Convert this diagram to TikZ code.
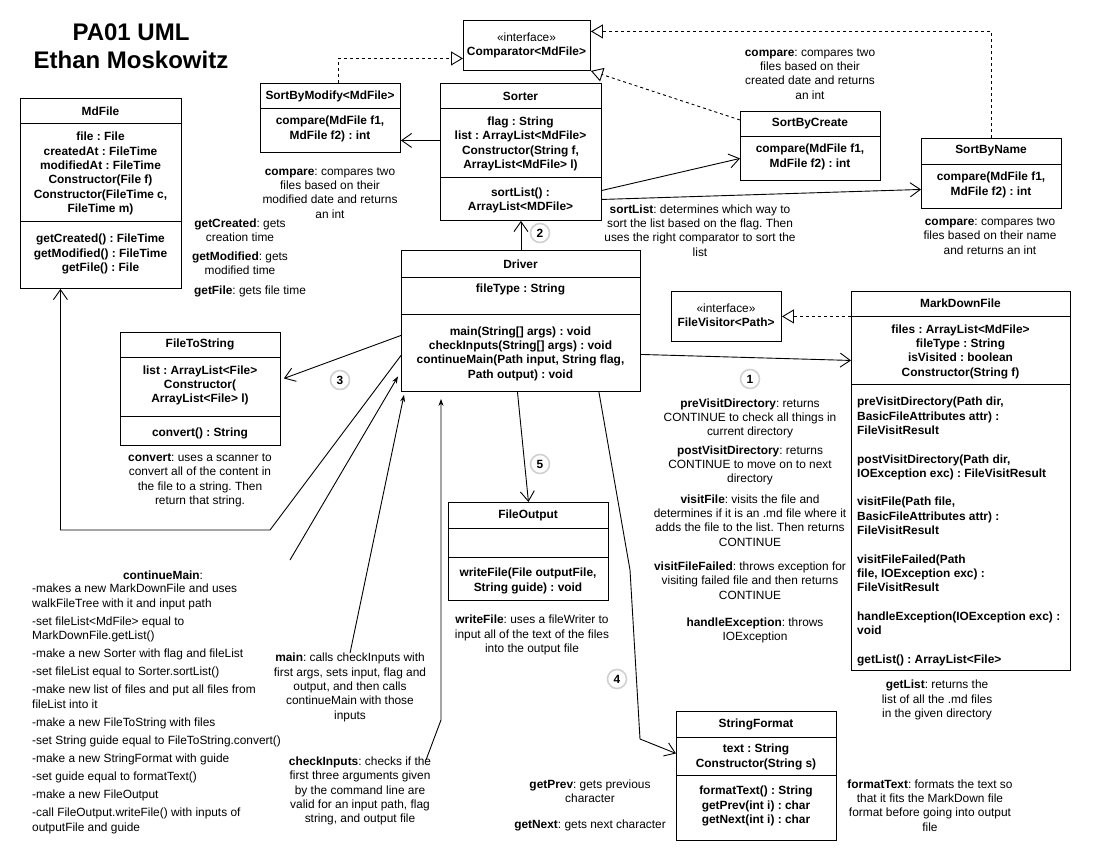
\documentclass[tikz,border=0pt]{standalone}
\usepackage{fontspec}
\setmainfont{Liberation Sans}
\usetikzlibrary{arrows.meta}
\frenchspacing

\tikzset{
	umlbox/.style={draw, line width=0.9pt, inner sep=0pt, anchor=north west},
	titletext/.style={font=\fontsize{24}{28}\selectfont\bfseries, align=center},
	member/.style={font=\fontsize{11.9}{14.3}\selectfont\bfseries, align=center, inner sep=0pt},
	note/.style={font=\fontsize{11.9}{14.3}\selectfont, align=center, inner sep=0pt},
	stepnum/.style={circle, draw=black!18, line width=1.6pt, fill=white, minimum size=19pt, inner sep=0pt, font=\fontsize{11.9}{14.3}\selectfont\bfseries},
	uses/.style={line width=0.9pt, -{Straight Barb[length=10pt,width=14pt]}},
	realizes/.style={line width=0.9pt, dashed, -{Triangle[open,length=12pt,width=14pt]}},
	calls/.style={line width=0.9pt, -{Stealth[length=7pt,width=5pt]}},
}

\begin{document}
\begin{tikzpicture}[x=1pt, y=-1pt]
	\useasboundingbox (0,0) rectangle (1100,850);
	\node [titletext] (title) at (131,46) {PA01 UML\\Ethan Moskowitz};

	% class boxes
	\node [umlbox, minimum width=127pt, minimum height=50pt] (comparator) at (463,20) {};
	\node [umlbox, minimum width=140pt, minimum height=69pt] (sbm) at (260,83) {};
	\node [umlbox, minimum width=161pt, minimum height=137pt] (sorter) at (440,83) {};
	\node [umlbox, minimum width=140pt, minimum height=69pt] (sbc) at (740,111) {};
	\node [umlbox, minimum width=140pt, minimum height=70pt] (sbn) at (921,138) {};
	\node [umlbox, minimum width=161pt, minimum height=190pt] (mdfile) at (20,98) {};
	\node [umlbox, minimum width=239pt, minimum height=141pt] (driver) at (401,250) {};
	\node [umlbox, minimum width=160pt, minimum height=113pt] (fts) at (120,332) {};
	\node [umlbox, minimum width=160pt, minimum height=98pt] (fo) at (448,502) {};
	\node [umlbox, minimum width=110pt, minimum height=50pt] (fv) at (671,291) {};
	\node [umlbox, minimum width=219pt, minimum height=379pt] (mdf) at (851,291) {};
	\node [umlbox, minimum width=160pt, minimum height=129pt] (sf) at (676,711) {};
	\foreach \n/\d in {sbm/25, sorter/25, sorter/94, sbc/25, sbn/26, mdfile/25, mdfile/123,
		driver/27, driver/64, fts/25, fts/84, fo/26, fo/55, mdf/25, mdf/93, sf/26, sf/64} {
		\draw [line width=0.9pt] ([yshift=-\d pt]\n.north west) -- ([yshift=-\d pt]\n.north east);
	}

	% class contents
	\node [note] (comptext) at (526.5,45.5) {«interface»\\\textbf{Comparator<MdFile>}};
	\node [member] (sbmname) at (330,96) {SortByModify<MdFile>};
	\node [member] (sbmops) at (330,129) {compare(MdFile f1,\\MdFile f2) : int};
	\node [member] (sortername) at (520.5,96) {Sorter};
	\node [member] (sorterattr) at (520.5,144) {flag : String\\list : ArrayList<MdFile>\\Constructor(String f,\\ArrayList<MdFile> l)};
	\node [member] (sorterops) at (520.5,200.5) {sortList() :\\ArrayList<MDFile>};
	\node [member] (sbcname) at (810,124) {SortByCreate};
	\node [member] (sbcops) at (810,157) {compare(MdFile f1,\\MdFile f2) : int};
	\node [member] (sbnname) at (991,151) {SortByName};
	\node [member] (sbnops) at (991,185) {compare(MdFile f1,\\MdFile f2) : int};
	\node [member] (mdfilename) at (100.5,111) {MdFile};
	\node [member] (mdfileattr) at (100.5,173.5) {file : File\\createdAt : FileTime\\modifiedAt : FileTime\\Constructor(File f)\\Constructor(FileTime c,\\FileTime m)};
	\node [member] (mdfileops) at (100.5,254) {getCreated() : FileTime\\getModified() : FileTime\\getFile() : File};
	\node [member] (drivername) at (520.5,264) {Driver};
	\node [member] (driverattr) at (520.5,289) {fileType : String};
	\node [member] (driverops) at (520.5,353.5) {main(String[] args) : void\\checkInputs(String[] args) : void\\continueMain(Path input, String flag,\\Path output) : void};
	\node [member] (ftsname) at (200,344.5) {FileToString};
	\node [member] (ftsattr) at (200,385.5) {list : ArrayList<File>\\Constructor(\\ArrayList<File> l)};
	\node [member] (ftsops) at (200,433) {convert() : String};
	\node [member] (foname) at (528,515) {FileOutput};
	\node [member] (foops) at (528,581) {writeFile(File outputFile,\\String guide) : void};
	\node [note] (fvtext) at (726,315.5) {«interface»\\\textbf{FileVisitor<Path>}};
	\node [member] (mdfname) at (960.5,303.5) {MarkDownFile};
	\node [member] (mdfattr) at (960.5,351.5) {files : ArrayList<MdFile>\\fileType : String\\isVisited : boolean\\Constructor(String f)};
	\node [member, align=left, anchor=west] (mdfops) at (857,531.5) {preVisitDirectory(Path dir,\\BasicFileAttributes attr) :\\FileVisitResult\\[14.3pt]postVisitDirectory(Path dir,\\IOException exc) : FileVisitResult\\[14.3pt]visitFile(Path file,\\BasicFileAttributes attr) :\\FileVisitResult\\[14.3pt]visitFileFailed(Path\\file, IOException exc) :\\FileVisitResult\\[14.3pt]handleException(IOException exc) :\\void\\[14.3pt]getList() : ArrayList<File>};
	\node [member] (sfname) at (756,724) {StringFormat};
	\node [member] (sfattr) at (756,757) {text : String\\Constructor(String s)};
	\node [member] (sfops) at (756,806) {formatText() : String\\getPrev(int i) : char\\getNext(int i) : char};

	% notes
	\node [note] (sbmnote) at (330,193) {\textbf{compare}: compares two\\files based on their\\modified date and returns\\an int};
	\node [note] (sbcnote) at (810,74) {\textbf{compare}: compares two\\files based on their\\created date and returns\\an int};
	\node [note] (sbnnote) at (990,236) {\textbf{compare}: compares two\\files based on their name\\and returns an int};
	\node [note] (sortnote) at (700,230.5) {\textbf{sortList}: determines which way to\\sort the list based on the flag. Then\\uses the right comparator to sort the\\list};
	\node [note] (creatednote) at (240,230.5) {\textbf{getCreated}: gets\\creation time};
	\node [note] (modifiednote) at (240,263) {\textbf{getModified}: gets\\modified time};
	\node [note] (filenote) at (250,291) {\textbf{getFile}: gets file time};
	\node [note] (convnote) at (200,480.5) {\textbf{convert}: uses a scanner to\\convert all of the content in\\the file to a string. Then\\return that string.};
	\node [note] (writenote) at (532,635) {\textbf{writeFile}: uses a fileWriter to\\input all of the text of the files\\into the output file};
	\node [note] (prenote) at (750,418.5) {\textbf{preVisitDirectory}: returns\\CONTINUE to check all things in\\current directory};
	\node [note] (postnote) at (750,465.5) {\textbf{postVisitDirectory}: returns\\CONTINUE to move on to next\\directory};
	\node [note] (visitnote) at (750,520.5) {\textbf{visitFile}: visits the file and\\determines if it is an .md file where it\\adds the file to the list. Then returns\\CONTINUE};
	\node [note] (failnote) at (750,580.5) {\textbf{visitFileFailed}: throws exception for\\visiting failed file and then returns\\CONTINUE};
	\node [note] (handlenote) at (755,630.5) {\textbf{handleException}: throws\\IOException};
	\node [note] (listnote) at (937,700) {\textbf{getList}: returns the\\list of all the .md files\\in the given directory};
	\node [note] (prevnote) at (590,791.5) {\textbf{getPrev}: gets previous\\character};
	\node [note] (nextnote) at (590,825) {\textbf{getNext}: gets next character};
	\node [note] (formatnote) at (930,805.5) {\textbf{formatText}: formats the text so\\that it fits the MarkDown file\\format before going into output\\file};
	\node [note] (cmhead) at (163,575) {\textbf{continueMain}:};
	\node [note, align=left, anchor=west] (cmnote) at (32,709) {-makes a new MarkDownFile and uses\\walkFileTree with it and input path\\[3.8pt]-set fileList<MdFile> equal to\\MarkDownFile.getList()\\[3.8pt]-make a new Sorter with flag and fileList\\[3.8pt]-set fileList equal to Sorter.sortList()\\[3.8pt]-make new list of files and put all files from\\fileList into it\\[3.8pt]-make a new FileToString with files\\[3.8pt]-set String guide equal to FileToString.convert()\\[3.8pt]-make a new StringFormat with guide\\[3.8pt]-set guide equal to formatText()\\[3.8pt]-make a new FileOutput\\[3.8pt]-call FileOutput.writeFile() with inputs of\\outputFile and guide};
	\node [note] (mainnote) at (350,687.5) {\textbf{main}: calls checkInputs with\\first args, sets input, flag and\\output, and then calls\\continueMain with those\\inputs};
	\node [note] (checknote) at (360,791) {\textbf{checkInputs}: checks if the\\first three arguments given\\by the command line are\\valid for an input path, flag\\string, and output file};

	% realizations
	\draw [realizes] ([xshift=8pt]sbm.north) |- ([yshift=-13pt]comparator.west);
	\draw [realizes] ([yshift=-9pt]sbc.north west) -- (comparator.south east);
	\draw [realizes] (sbn.north) |- ([yshift=14pt]comparator.east);
	\draw [realizes] ([yshift=164.5pt]mdf.west) -- (fv.east);

	% associations
	\draw [uses] ([yshift=11.5pt]sorter.west) -- ([yshift=-22.5pt]sbm.east);
	\draw [uses] ([yshift=-38.5pt]sorter.east) -- ([yshift=-12.5pt]sbc.west);
	\draw [uses] ([yshift=-47.5pt]sorter.east) -- ([yshift=-16pt]sbn.west);
	\draw [uses] (driver.north) -- (sorter.south);
	\draw [uses] ([yshift=-14.5pt]driver.west) -- ([xshift=3pt,yshift=10.5pt]fts.east);
	\draw [uses] ([yshift=-33.5pt]driver.east) -- ([yshift=120.5pt]mdf.west);
	\draw [uses] ([xshift=-3.5pt]driver.south) -- (fo.north);
	\draw [uses] ([xshift=-42pt]driver.south east) -- (630,570) -- (640,739) -- ([yshift=22.5pt]sf.west);
	\draw [uses] ([yshift=-34.5pt]driver.west) -- (270,530) -| ([xshift=-40.5pt]mdfile.south);

	% calls from the notes
	\coordinate (cmtail) at (290,560);
	\coordinate (citail) at (426,760);
	\draw [calls] (cmtail) -- ([xshift=-3pt,yshift=-55.5pt]driver.west);
	\draw [calls] (mainnote.north) -- ([xshift=3pt,yshift=-3pt]driver.south west);
	\draw [calls] (citail) -- (441,720) -- ([xshift=40pt,yshift=-7pt]driver.south west);

	% order of steps
	\node [stepnum] (s1) at (750,379) {1};
	\node [stepnum] (s2) at (540,233) {2};
	\node [stepnum] (s3) at (340,380) {3};
	\node [stepnum] (s4) at (617,679) {4};
	\node [stepnum] (s5) at (540,464) {5};
\end{tikzpicture}
\end{document}
